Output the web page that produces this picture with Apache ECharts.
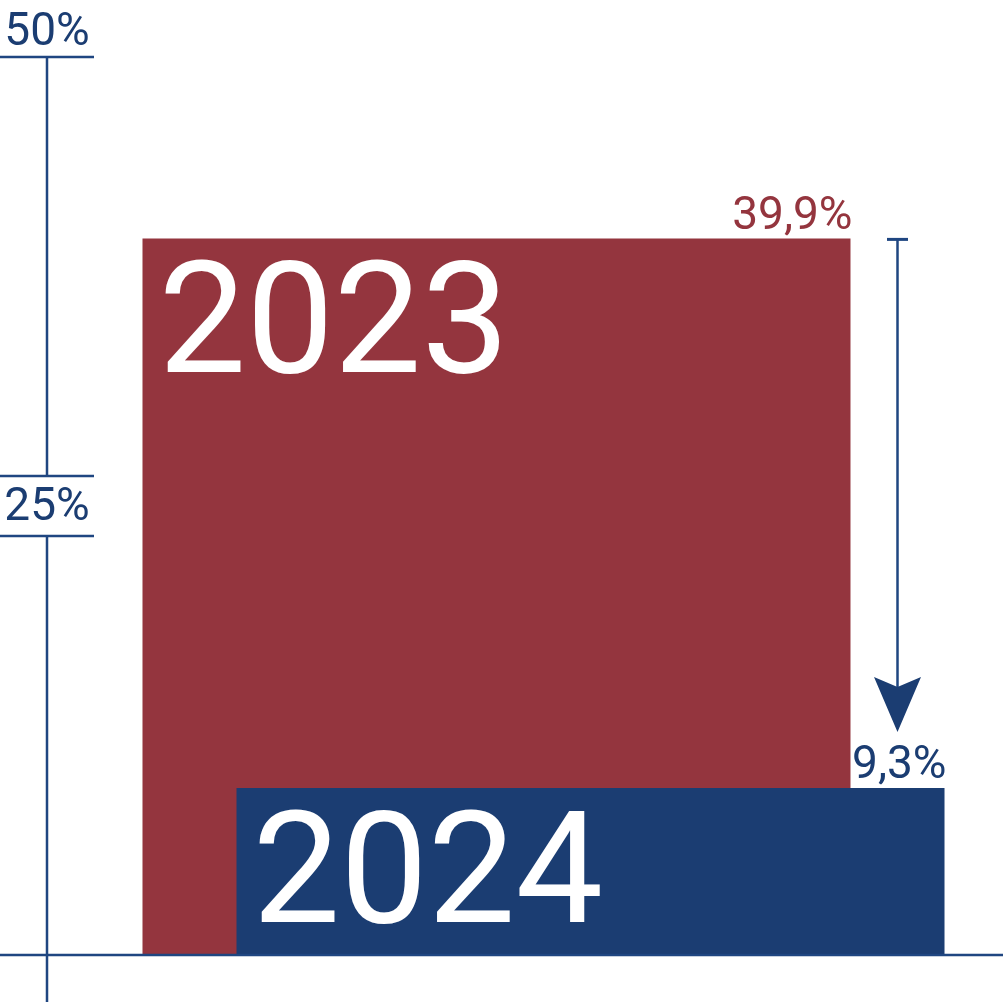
<!DOCTYPE html>
<html><head><meta charset="utf-8">
<script src="https://cdn.jsdelivr.net/npm/echarts@6/dist/echarts.min.js"></script>
<style>html,body{margin:0;padding:0;background:#fff}#c{width:1003px;height:1003px}</style>
</head><body><div id="c"></div>
<script>
// ---- data ----
const years = ['2023', '2024'];
const values = [39.9, 9.3];
const valueLabels = ['39,9%', '9,3%'];
const tickValues = [50, 25];
const tickLabels = ['50%', '25%'];

// ---- styles ----
const RED = '#94353E', BLUE = '#1B3D72', LINE = '#1F4681';
const FONT = 'Roboto';
const colors = [RED, BLUE];

const chart = echarts.init(document.getElementById('c'), null, {renderer: 'canvas'});
chart.setOption({
  animation: false,
  backgroundColor: '#fff',
  grid: {left: 100, right: 16, top: 57, bottom: 48},
  xAxis: {type: 'category', data: ['all'], show: false},
  yAxis: {type: 'value', min: 0, max: 50, show: false},
  series: years.map((y, i) => ({
    type: 'bar', name: y, data: [values[i]],
    barWidth: 708, barGap: '-86.72%',
    itemStyle: {color: colors[i]},
    silent: true,
    label: {
      show: true, position: ['100%', 0], align: 'right', verticalAlign: 'bottom',
      offset: [2, 2], formatter: valueLabels[i], color: colors[i],
      fontFamily: FONT, fontSize: 46
    }
  }))
});

const py = v => chart.convertToPixel({yAxisIndex: 0}, v);
const layouts = years.map((y, i) => chart.getModel().getSeriesByIndex(i).getData().getItemLayout(0));

const g = [];
const axisX = 47;
function line(x1, y1, x2, y2, w, c) {
  g.push({type: 'line', silent: true, z: 50, shape: {x1, y1, x2, y2}, style: {stroke: c || LINE, lineWidth: w || 2.5}});
}
function text(x, y, t, fill, size, align, valign) {
  g.push({type: 'text', silent: true, z: 60, x, y,
    style: {text: t, fill, fontFamily: FONT, fontSize: size, align, verticalAlign: valign, textAlign: align, textVerticalAlign: valign}});
}
// baseline
line(0, py(0), 1003, py(0), 2.5);
// top tick (50%)
const y50 = py(tickValues[0]);
line(0, y50, 94, y50);
text(axisX, y50 - 1, tickLabels[0], BLUE, 46, 'center', 'bottom');
// 25% boxed label
const y25 = py(tickValues[1]);
line(0, y25 - 30, 94, y25 - 30);
line(0, y25 + 30, 94, y25 + 30);
text(axisX, y25 + 2, tickLabels[1], BLUE, 46, 'center', 'middle');
// vertical axis segments
line(axisX, y50, axisX, y25 - 30);
line(axisX, y25 + 30, axisX, 1002);

// year labels inside bars
layouts.forEach((l, i) => {
  const top = Math.min(l.y, l.y + l.height);
  const left = Math.min(l.x, l.x + l.width);
  text(left + 16, top + 17, years[i], '#fff', 156, 'left', 'top');
});

// arrow from 2023 value down to 2024 value
const rightEdge = l => Math.max(l.x, l.x + l.width);
const ax = (rightEdge(layouts[0]) + rightEdge(layouts[1])) / 2;
const yTop = py(values[0]) + 1;
const tip = py(values[1]) - 56;
line(ax - 10.5, yTop, ax + 10.5, yTop, 3);
line(ax, yTop, ax, tip - 44, 2.5);
g.push({type: 'polygon', silent: true, z: 50,
  shape: {points: [[ax, tip], [ax - 23.5, tip - 55], [ax, tip - 45], [ax + 23.5, tip - 55]]},
  style: {fill: BLUE}});

chart.setOption({graphic: {elements: g}});
</script>
</body></html>
